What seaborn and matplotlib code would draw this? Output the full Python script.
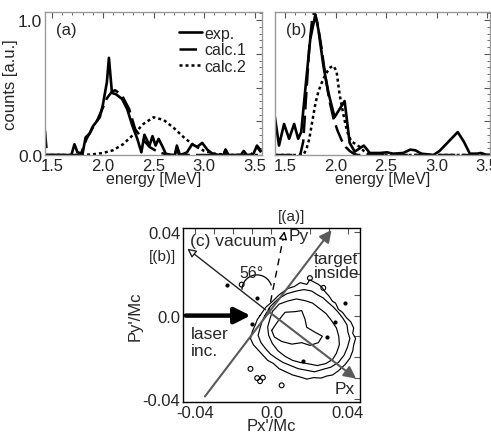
import matplotlib
matplotlib.use('Agg')

import numpy as np
import matplotlib.pyplot as plt
import seaborn as sns
from matplotlib.patches import Arc
from matplotlib.ticker import MultipleLocator, FuncFormatter

sns.set_style("white")
plt.rcParams['font.family'] = ['Liberation Sans', 'DejaVu Sans']

# ---- panel (a) spectra ----
a_exp_e = [1.43, 1.50, 1.60, 1.69, 1.72, 1.75, 1.80, 1.83, 1.87, 1.90, 1.94, 1.97, 2.00,
           2.04, 2.06, 2.09, 2.13, 2.19, 2.24, 2.29, 2.34, 2.38, 2.41, 2.46, 2.49, 2.52,
           2.55, 2.59, 2.62, 2.68, 2.71, 2.73, 2.76, 2.80, 2.83, 2.88, 2.93, 2.98, 3.03,
           3.08, 3.15, 3.19, 3.21, 3.24, 3.30, 3.36, 3.39, 3.42, 3.48, 3.52, 3.56]
a_exp_c = [0.0, 0.0, 0.0, 0.0, 0.08, 0.02, 0.01, 0.13, 0.16, 0.21, 0.25, 0.28, 0.37,
           0.54, 0.72, 0.46, 0.45, 0.415, 0.34, 0.22, 0.12, 0.02, 0.15, 0.07, 0.14, 0.07,
           0.12, 0.06, 0.01, 0.0, 0.0, 0.07, 0.0, 0.01, 0.02, 0.08, 0.06, 0.09, 0.04,
           0.01, 0.0, 0.0, 0.04, 0.0, 0.0, 0.0, 0.03, 0.0, 0.0, 0.07, 0.03]

a_c1_e = [1.43, 1.45, 1.60, 1.78, 1.84, 1.90, 1.94, 2.00, 2.04, 2.09, 2.12, 2.16, 2.19,
          2.26, 2.32, 2.39, 2.46, 2.55, 2.65, 2.71, 2.73, 2.75, 3.19, 3.21, 3.23, 3.46,
          3.52, 3.56]
a_c1_c = [0.18, 0.0, 0.0, 0.0, 0.12, 0.20, 0.25, 0.35, 0.42, 0.47, 0.48, 0.46, 0.44,
          0.34, 0.19, 0.12, 0.06, 0.02, 0.0, 0.0, 0.06, 0.0, 0.0, 0.04, 0.0, 0.0,
          0.06, 0.02]

a_c2_e = [1.43, 1.80, 1.90, 2.00, 2.10, 2.20, 2.30, 2.40, 2.50, 2.60, 2.70, 2.80, 2.90,
          3.00, 3.10, 3.20, 3.30, 3.56]
a_c2_c = [0.0, 0.0, 0.005, 0.015, 0.035, 0.08, 0.15, 0.23, 0.28, 0.26, 0.20, 0.13, 0.07,
          0.03, 0.01, 0.003, 0.0, 0.0]

# ---- panel (b) spectra ----
b_exp_e = [1.40, 1.44, 1.49, 1.54, 1.59, 1.63, 1.66, 1.71, 1.75, 1.80, 1.83, 1.88, 1.93,
           1.99, 2.04, 2.09, 2.14, 2.19, 2.28, 2.34, 2.44, 2.51, 2.57, 2.67, 2.74, 2.79,
           2.85, 2.97, 3.03, 3.12, 3.21, 3.27, 3.33, 3.40, 3.44, 3.50, 3.53]
b_exp_c = [0.28, 0.07, 0.23, 0.12, 0.23, 0.12, 0.17, 0.56, 0.86, 1.04, 0.93, 0.66, 0.46,
           0.28, 0.34, 0.40, 0.09, 0.025, 0.07, 0.015, 0.015, 0.02, 0.01, 0.015, 0.04, 0.035,
           0.01, 0.0, 0.03, 0.10, 0.17, 0.10, 0.01, 0.01, 0.015, 0.0, 0.0]

b_c1_e = [1.40, 1.60, 1.65, 1.68, 1.71, 1.74, 1.77, 1.79, 1.82, 1.86, 1.90, 1.94, 1.98,
          2.02, 2.06, 2.10, 2.14, 2.18, 2.22, 3.53]
b_c1_c = [0.0, 0.0, 0.0, 0.10, 0.45, 0.80, 1.02, 1.06, 0.98, 0.80, 0.58, 0.40, 0.27,
          0.18, 0.11, 0.06, 0.03, 0.01, 0.0, 0.0]

b_c2_e = [1.40, 1.68, 1.71, 1.74, 1.77, 1.80, 1.83, 1.86, 1.89, 1.92, 1.95, 1.98, 2.01,
          2.04, 2.07, 2.10, 2.13, 2.16, 2.20, 2.24, 2.28, 2.32, 2.40, 3.53]
b_c2_c = [0.0, 0.0, 0.04, 0.12, 0.25, 0.38, 0.47, 0.53, 0.58, 0.62, 0.65, 0.66, 0.62,
          0.45, 0.33, 0.22, 0.14, 0.10, 0.08, 0.06, 0.03, 0.01, 0.0, 0.0]

# ---- panel (c) momentum distribution contours ----
ring1_x = [-0.0060, -0.0030, 0.0005, 0.0040, 0.0085, 0.0120, 0.0150, 0.0185, 0.0200, 0.0225,
           0.0245, 0.0262, 0.0280, 0.0300, 0.0318, 0.0335, 0.0350, 0.0372, 0.0392, 0.0415,
           0.0430, 0.0425, 0.0440, 0.0430, 0.0425, 0.0410, 0.0385, 0.0350, 0.0320, 0.0290,
           0.0260, 0.0220, 0.0185, 0.0150, 0.0110, 0.0075, 0.0040, 0.0010, -0.0020, -0.0045,
           -0.0070, -0.0095, -0.0110, -0.0100, -0.0085, -0.0075, -0.0060]
ring1_y = [0.0000, 0.0040, 0.0068, 0.0100, 0.0130, 0.0140, 0.0158, 0.0150, 0.0172, 0.0160,
           0.0150, 0.0138, 0.0115, 0.0095, 0.0070, 0.0060, 0.0030, 0.0015, -0.0010, -0.0030,
           -0.0060, -0.0085, -0.0110, -0.0140, -0.0170, -0.0205, -0.0235, -0.0265, -0.0285, -0.0290,
           -0.0300, -0.0298, -0.0305, -0.0295, -0.0285, -0.0270, -0.0255, -0.0230, -0.0215, -0.0190,
           -0.0165, -0.0140, -0.0110, -0.0075, -0.0045, -0.0020, 0.0000]
ring2_x = [-0.0035, -0.0005, 0.0035, 0.0080, 0.0130, 0.0170, 0.0210, 0.0240, 0.0270, 0.0300,
           0.0325, 0.0350, 0.0375, 0.0395, 0.0400, 0.0410, 0.0398, 0.0380, 0.0350, 0.0310,
           0.0270, 0.0225, 0.0180, 0.0140, 0.0100, 0.0060, 0.0025, -0.0005, -0.0030, -0.0055,
           -0.0070, -0.0060, -0.0050, -0.0035]
ring2_y = [0.0000, 0.0045, 0.0080, 0.0105, 0.0118, 0.0125, 0.0118, 0.0100, 0.0085, 0.0060,
           0.0040, 0.0015, -0.0015, -0.0045, -0.0080, -0.0110, -0.0150, -0.0190, -0.0225, -0.0248,
           -0.0258, -0.0270, -0.0262, -0.0255, -0.0240, -0.0225, -0.0205, -0.0185, -0.0160, -0.0130,
           -0.0095, -0.0060, -0.0030, 0.0000]
ring3_x = [0.0005, 0.0040, 0.0085, 0.0130, 0.0175, 0.0215, 0.0250, 0.0285, 0.0315, 0.0340,
           0.0352, 0.0355, 0.0340, 0.0320, 0.0285, 0.0240, 0.0195, 0.0150, 0.0110, 0.0070,
           0.0035, 0.0005, -0.0015, -0.0020, -0.0008, 0.0005]
ring3_y = [0.0020, 0.0055, 0.0070, 0.0080, 0.0072, 0.0060, 0.0035, 0.0010, -0.0025, -0.0060,
           -0.0100, -0.0140, -0.0180, -0.0210, -0.0230, -0.0240, -0.0232, -0.0225, -0.0215, -0.0195,
           -0.0170, -0.0135, -0.0095, -0.0055, -0.0015, 0.0020]
ring4_x = [0.0001, 0.0036, 0.0071, 0.0123, 0.0158, 0.0175, 0.0184, 0.0228, 0.0266, 0.0245,
           0.0201, 0.0158, 0.0106, 0.0053, 0.0015, 0.0001]
ring4_y = [-0.0071, -0.0024, 0.0016, 0.0019, 0.0024, -0.0016, -0.0056, -0.0080, -0.0099, -0.0130,
           -0.0143, -0.0130, -0.0137, -0.0124, -0.0103, -0.0071]
dot_x = [-0.0234, -0.0077, -0.0104, 0.0289, 0.0166, 0.0384, 0.0330]
dot_y = [0.0149, 0.0086, -0.0041, -0.0105, -0.0216, 0.0062, -0.0030]
blob_x = [-0.0156, -0.0110, -0.0075, -0.0060, -0.0045, 0.0053, 0.0201, 0.0271]
blob_y = [0.0149, -0.0256, -0.0300, -0.0315, -0.0298, -0.0335, 0.0180, 0.0133]

spine_gray = '#9a9a9a'
tick_gray = '#555555'

fig = plt.figure(figsize=(4.91, 4.39), dpi=100)
ax_a = fig.add_axes([0.0917, 0.6446, 0.442, 0.326])
ax_b = fig.add_axes([0.560, 0.6446, 0.438, 0.326])
ax_c = fig.add_axes([0.3727, 0.082, 0.3605, 0.396])


def style_spectrum(ax, xlim):
    ax.set_xlim(*xlim)
    ax.set_ylim(0, 1.06)
    ax.xaxis.set_major_locator(MultipleLocator(0.5))
    ax.xaxis.set_minor_locator(MultipleLocator(0.1))
    ax.yaxis.set_major_locator(MultipleLocator(0.25))
    ax.yaxis.set_minor_locator(MultipleLocator(0.05))
    ax.xaxis.set_major_formatter(FuncFormatter(lambda v, p: f"{v:.1f}"))
    ax.tick_params(which='both', direction='in', top=True, right=True, color=tick_gray, pad=2)
    ax.tick_params(axis='x', labelsize=12)
    ax.tick_params(axis='y', labelsize=12.5)
    ax.tick_params(which='major', length=4, width=0.8)
    ax.tick_params(which='minor', length=2, width=0.6)
    for s in ax.spines.values():
        s.set_color(spine_gray)
        s.set_linewidth(1.0)
    ax.set_xlabel('energy [MeV]', fontsize=11.5, labelpad=-1)


lw_exp = 1.9
lw_calc = 1.8
dash1 = (0, (7, 2.5))
dot2 = (0, (1.2, 1.2))

sns.lineplot(x=a_exp_e, y=a_exp_c, ax=ax_a, color='black', lw=lw_exp, label='exp.')
sns.lineplot(x=a_c1_e, y=a_c1_c, ax=ax_a, color='black', lw=lw_calc, label='calc.1', linestyle=dash1)
sns.lineplot(x=a_c2_e, y=a_c2_c, ax=ax_a, color='black', lw=lw_calc, label='calc.2', linestyle=dot2)
style_spectrum(ax_a, (1.43, 3.57))
ax_a.yaxis.set_major_formatter(FuncFormatter(
    lambda v, p: f"{v:.1f}" if abs(v) < 1e-6 or abs(v - 1) < 1e-6 else ""))
ax_a.set_ylabel('counts [a.u.]', fontsize=12, labelpad=0)
ax_a.text(0.05, 0.93, '(a)', transform=ax_a.transAxes, fontsize=12, va='top')
ax_a.legend(loc='upper right', bbox_to_anchor=(0.97, 0.97), frameon=False, fontsize=11.5,
            handlelength=1.45, handletextpad=0.1, labelspacing=0.1, borderaxespad=0.2)

sns.lineplot(x=b_exp_e, y=b_exp_c, ax=ax_b, color='black', lw=lw_exp)
sns.lineplot(x=b_c1_e, y=b_c1_c, ax=ax_b, color='black', lw=lw_calc, linestyle=dash1)
sns.lineplot(x=b_c2_e, y=b_c2_c, ax=ax_b, color='black', lw=lw_calc, linestyle=dot2)
style_spectrum(ax_b, (1.40, 3.53))
ax_b.yaxis.set_major_formatter(FuncFormatter(lambda v, p: ""))
ax_b.set_ylabel('')
ax_b.text(0.05, 0.93, '(b)', transform=ax_b.transAxes, fontsize=12, va='top')

# ---- panel (c) ----
ax = ax_c
ax.set_xlim(-0.0463, 0.0463)
ax.set_ylim(-0.0415, 0.042)
for rx, ry in [(ring1_x, ring1_y), (ring2_x, ring2_y), (ring3_x, ring3_y), (ring4_x, ring4_y)]:
    ax.plot(rx, ry, color='black', lw=0.85)
ax.scatter(dot_x, dot_y, s=4, color='black', zorder=3)
ax.scatter(blob_x, blob_y, s=12, facecolor='none', edgecolor='black', lw=0.8, zorder=3)

gray = '#5a5a5a'
ax.annotate('', xy=(0.0323, 0.0422), xytext=(-0.0357, -0.0399),
            arrowprops=dict(arrowstyle='-|>', color=gray, lw=1.5, mutation_scale=18))
ax.annotate('', xy=(0.0454, -0.0311), xytext=(-0.003, 0.003),
            arrowprops=dict(arrowstyle='-|>', color=gray, lw=1.5, mutation_scale=18))
ax.annotate('', xy=(-0.0452, 0.0330), xytext=(-0.002, 0.002),
            arrowprops=dict(arrowstyle='-|>', fc='white', ec='#222222', lw=1.0, mutation_scale=13))
# dashed direction of panel (a), open head drawn solid
ax.plot([-0.0018, 0.0064], [0.0006, 0.0385], color='black', lw=1.0, linestyle=(0, (5, 4)))
ax.annotate('', xy=(0.0071, 0.0419), xytext=(0.0063, 0.0380),
            arrowprops=dict(arrowstyle='-|>', fc='white', ec='black', lw=1.0, mutation_scale=12))
ax.annotate('', xy=(-0.0095, 0.0), xytext=(-0.0463, 0.0),
            arrowprops=dict(arrowstyle='-|>', color='black', lw=3.2, mutation_scale=24))
ax.add_patch(Arc((-0.0076, 0.0124), 0.0157, 0.0143, theta1=15, theta2=180, color='black', lw=0.9))

fs = 12.5
ax.text(-0.0426, 0.0363, '(c) vacuum', fontsize=fs, va='center', ha='left')
ax.text(0.0090, 0.0387, 'Py', fontsize=fs, va='center', ha='left')
ax.text(0.0106, 0.0480, '[(a)]', fontsize=11, va='center', ha='center', clip_on=False)
ax.text(-0.0570, 0.0284, '[(b)]', fontsize=11, va='center', ha='center', clip_on=False)
ax.text(-0.0104, 0.0205, '56°', fontsize=11.5, va='center', ha='center')
ax.text(0.0222, 0.0240, 'target\ninside', fontsize=fs, va='center', ha='left', linespacing=0.95)
ax.text(-0.0423, -0.0084, 'laser', fontsize=fs, va='center', ha='left')
ax.text(-0.0423, -0.0168, 'inc.', fontsize=fs, va='center', ha='left')
ax.text(0.0384, -0.0351, 'Px', fontsize=fs, va='center', ha='center')

ax.xaxis.set_major_locator(MultipleLocator(0.01))
ax.yaxis.set_major_locator(MultipleLocator(0.01))
lab = {-0.04: '-0.04', 0.0: '0.0', 0.04: '0.04'}


def c_fmt(v, p):
    for k, s in lab.items():
        if abs(v - k) < 1e-6:
            return s
    return ''


ax.xaxis.set_major_formatter(FuncFormatter(c_fmt))
ax.yaxis.set_major_formatter(FuncFormatter(c_fmt))
ax.tick_params(which='both', direction='in', top=True, right=True, length=4, width=0.8,
               color=tick_gray, labelsize=12, pad=2)
for s in ax.spines.values():
    s.set_color('black')
    s.set_linewidth(1.0)
ax.set_xlabel("Px'/Mc", fontsize=12, labelpad=-1)
ax.set_ylabel("Py'/Mc", fontsize=12, labelpad=0)

fig.savefig('out.png', dpi=100)
